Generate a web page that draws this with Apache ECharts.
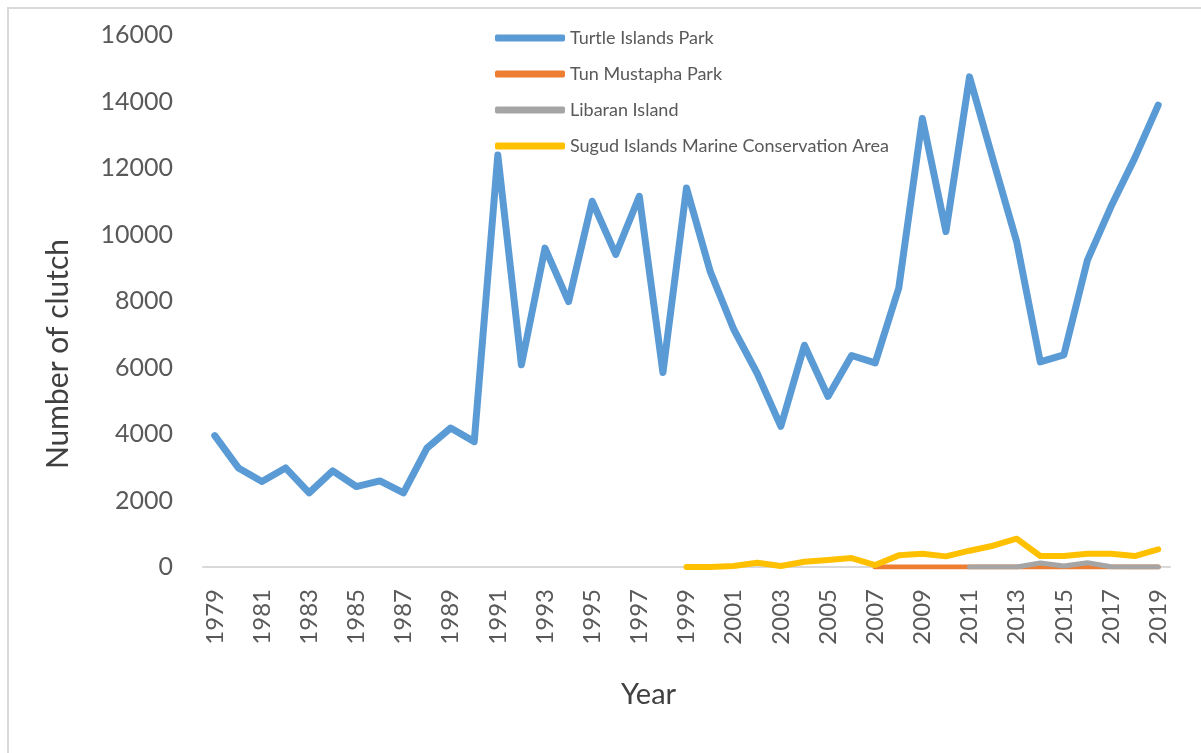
<!DOCTYPE html>
<html>
<head>
<meta charset="utf-8">
<script src="https://cdn.jsdelivr.net/npm/echarts@6/dist/echarts.min.js"></script>
<style>
html,body{margin:0;padding:0;background:#fff;}
#chart{width:1201px;height:753px;}
</style>
</head>
<body>
<div id="chart"></div>
<script>
const years = [];
for (let y = 1979; y <= 2019; y++) years.push(String(y));

const yTicks = [0, 2000, 4000, 6000, 8000, 10000, 12000, 14000, 16000];

const seriesNames = ['Turtle Islands Park', 'Tun Mustapha Park', 'Libaran Island', 'Sugud Islands Marine Conservation Area'];

// Turtle Islands Park, 1979-2019
const turtleValues = [3950, 2980, 2570, 2980, 2230, 2890, 2420, 2590, 2230, 3580, 4180, 3770,
  12390, 6080, 9590, 7980, 11000, 9400, 11150, 5850, 11400, 8900,
  7150, 5820, 4230, 6670, 5130, 6360, 6140, 8390, 13490, 10090,
  14740, 12240, 9780, 6170, 6380, 9230, 10840, 12290, 13890];

// Tun Mustapha Park, 2007-2019
const tunStart = 2007;
const tunValues = [0, 0, 0, 0, 0, 0, 0, 0, 0, 0, 0, 0, 0];

// Libaran Island, 2011-2019
const libaranStart = 2011;
const libaranValues = [0, 0, 0, 120, 30, 130, 10, 0, 0];

// Sugud Islands Marine Conservation Area, 1999-2019
const sugudStart = 1999;
const sugudValues = [0, 0, 30, 130, 30, 160, 210, 270, 60, 350, 400, 320, 490, 640, 850, 330, 330, 400, 400, 330, 530];

function pairs(start, vals) {
  return vals.map((v, i) => [String(start + i), v]);
}

const colors = ['#5B9BD5', '#ED7D31', '#A5A5A5', '#FFC000'];
const FONT = 'Lato';

function lineSeries(name, data, color, width, z) {
  return {
    name: name,
    type: 'line',
    data: data,
    symbol: 'none',
    z: z,
    lineStyle: { color: color, width: width, cap: 'round', join: 'round' },
    itemStyle: { color: color },
    emphasis: { disabled: true }
  };
}

const chart = echarts.init(document.getElementById('chart'));
chart.setOption({
  animation: false,
  backgroundColor: '#ffffff',
  textStyle: { fontFamily: FONT },
  graphic: [{
    type: 'rect',
    shape: { x: 8, y: 8, width: 1400, height: 1000 },
    style: { fill: 'none', stroke: '#d9d9d9', lineWidth: 2 },
    silent: true
  }],
  grid: { left: 203, right: 31, top: 35, bottom: 186, containLabel: false },
  legend: {
    orient: 'vertical',
    left: 490,
    top: 24,
    itemWidth: 70,
    itemHeight: 7,
    itemGap: 18,
    icon: 'roundRect',
    data: seriesNames,
    textStyle: { fontFamily: FONT, fontSize: 18, color: '#595959' }
  },
  xAxis: {
    type: 'category',
    data: years,
    boundaryGap: true,
    name: 'Year',
    nameLocation: 'middle',
    nameGap: 113,
    nameTextStyle: { fontFamily: FONT, fontSize: 29, color: '#404040', padding: [0, 76, 0, 0] },
    axisLine: { show: true, lineStyle: { color: '#d9d9d9', width: 2 } },
    axisTick: { show: false },
    axisLabel: { interval: 1, rotate: 90, margin: 22, fontFamily: FONT, fontSize: 24, color: '#595959' },
    splitLine: { show: false }
  },
  yAxis: {
    type: 'value',
    min: yTicks[0],
    max: yTicks[yTicks.length - 1],
    interval: 2000,
    name: 'Number of clutch',
    nameLocation: 'middle',
    nameGap: 130,
    nameTextStyle: { fontFamily: FONT, fontSize: 30, color: '#404040', padding: [0, 106, 0, 0] },
    axisLine: { show: false },
    axisTick: { show: false },
    splitLine: { show: false },
    axisLabel: { margin: 30, fontFamily: FONT, fontSize: 25, color: '#595959', formatter: (v) => String(v) }
  },
  series: [
    lineSeries(seriesNames[0], turtleValues, colors[0], 7, 2),
    lineSeries(seriesNames[1], pairs(tunStart, tunValues), colors[1], 5, 3),
    lineSeries(seriesNames[2], pairs(libaranStart, libaranValues), colors[2], 5, 4),
    lineSeries(seriesNames[3], pairs(sugudStart, sugudValues), colors[3], 6, 5)
  ]
});
</script>
</body>
</html>
